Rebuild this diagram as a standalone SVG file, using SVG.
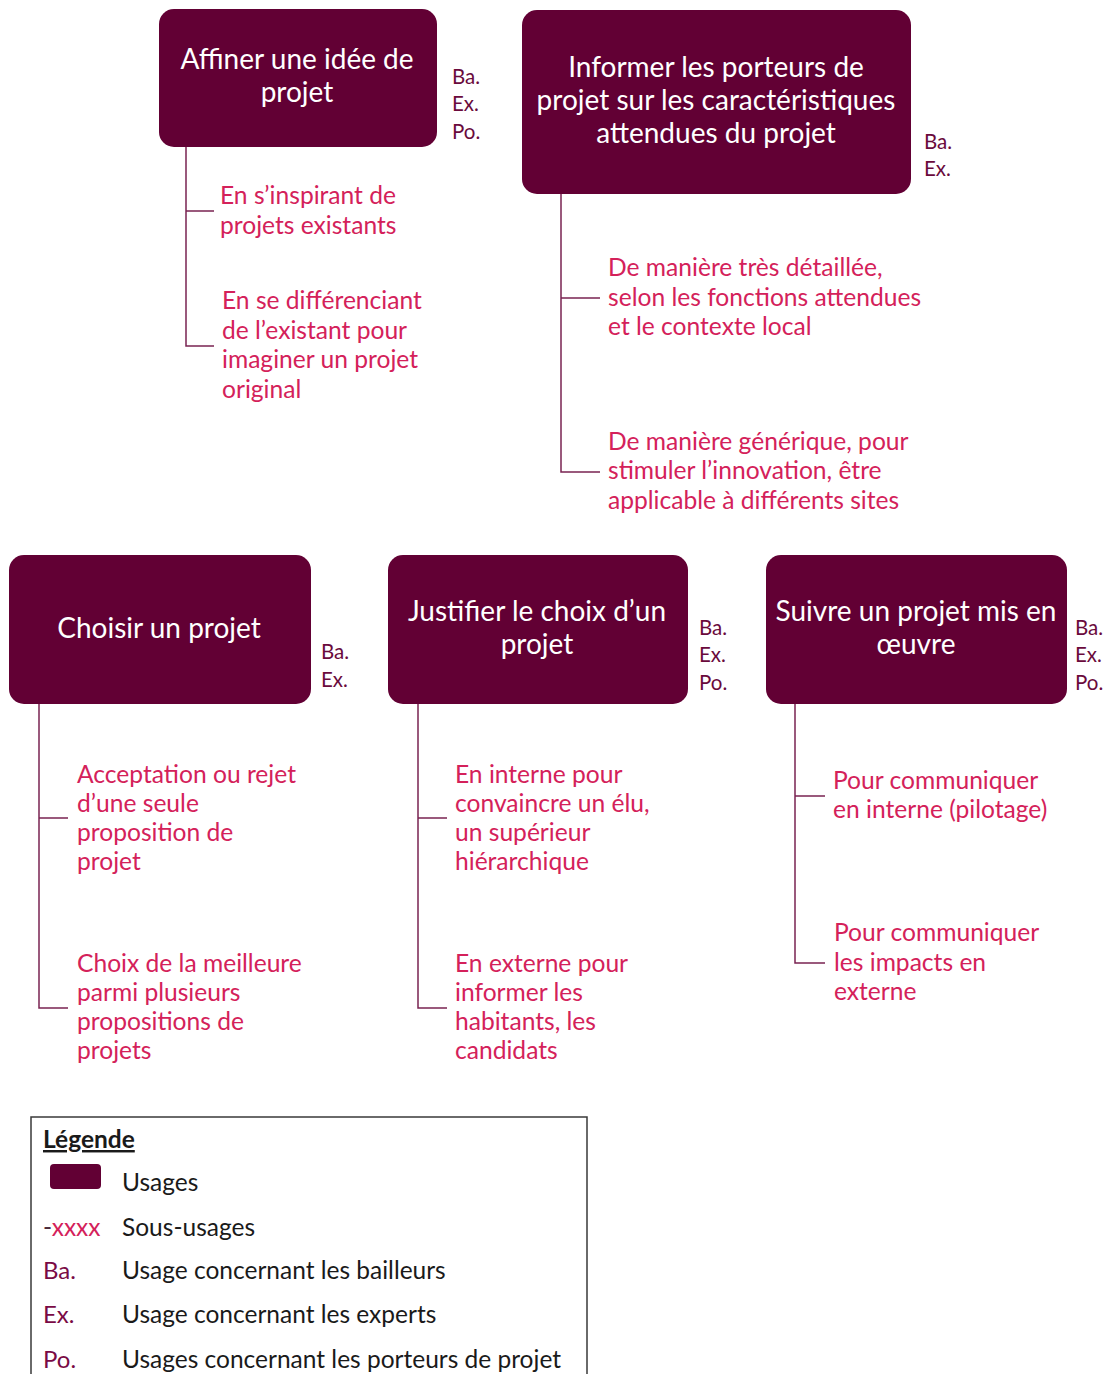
<svg xmlns="http://www.w3.org/2000/svg" width="1109" height="1374" viewBox="0 0 1109 1374">
<style>
.box{fill:#620034;}
.bt{font-family:Lato,"Open Sans","Liberation Sans",sans-serif;font-size:28px;fill:#ffffff;text-anchor:middle;}
.tag{font-family:Lato,"Open Sans","Liberation Sans",sans-serif;font-size:20.5px;fill:#6a0a3c;}
.sub{font-family:Lato,"Open Sans","Liberation Sans",sans-serif;font-size:24.6px;fill:#d4215a;}
.con{fill:none;stroke:#7a2352;stroke-width:1.5;}
.leg{font-family:Lato,"Open Sans","Liberation Sans",sans-serif;font-size:24.5px;fill:#1a1a1a;}
.legk{font-family:Lato,"Open Sans","Liberation Sans",sans-serif;font-size:24px;fill:#7a0a45;}
</style>
<rect width="1109" height="1374" fill="#ffffff"/>
<g id="connectors">
<path class="con" d="M186 147V346H214M186 211H214"/>
<path class="con" d="M561 194V472H600M561 298H600"/>
<path class="con" d="M39 704V1008H68M39 818H68"/>
<path class="con" d="M418 704V1008H447M418 818H447"/>
<path class="con" d="M795 704V963H825M795 796H825"/>
</g>
<g id="node-affiner">
<rect class="box" x="159" y="9" width="278" height="138" rx="15"/>
<text class="bt" x="297" y="69">Affiner une idée de</text>
<text class="bt" x="297" y="102">projet</text>
<text class="tag" x="452" y="84">Ba.</text>
<text class="tag" x="452" y="111">Ex.</text>
<text class="tag" x="452" y="139">Po.</text>
</g>
<g id="sub-affiner-1">
<text class="sub" x="220" y="204">En s’inspirant de</text>
<text class="sub" x="220" y="234">projets existants</text>
</g>
<g id="sub-affiner-2">
<text class="sub" x="222" y="309">En se différenciant</text>
<text class="sub" x="222" y="339">de l’existant pour</text>
<text class="sub" x="222" y="368">imaginer un projet</text>
<text class="sub" x="222" y="398">original</text>
</g>
<g id="node-informer">
<rect class="box" x="522" y="10" width="389" height="184" rx="15"/>
<text class="bt" x="716" y="77">Informer les porteurs de</text>
<text class="bt" x="716" y="110">projet sur les caractéristiques</text>
<text class="bt" x="716" y="143">attendues du projet</text>
<text class="tag" x="924" y="149">Ba.</text>
<text class="tag" x="924" y="176">Ex.</text>
</g>
<g id="sub-informer-1">
<text class="sub" x="608" y="276">De manière très détaillée,</text>
<text class="sub" x="608" y="306">selon les fonctions attendues</text>
<text class="sub" x="608" y="335">et le contexte local</text>
</g>
<g id="sub-informer-2">
<text class="sub" x="608" y="450">De manière générique, pour</text>
<text class="sub" x="608" y="479">stimuler l’innovation, être</text>
<text class="sub" x="608" y="509">applicable à différents sites</text>
</g>
<g id="node-choisir">
<rect class="box" x="9" y="555" width="302" height="149" rx="15"/>
<text class="bt" x="159" y="638">Choisir un projet</text>
<text class="tag" x="321" y="659">Ba.</text>
<text class="tag" x="321" y="687">Ex.</text>
</g>
<g id="sub-choisir-1">
<text class="sub" x="77" y="783">Acceptation ou rejet</text>
<text class="sub" x="77" y="812">d’une seule</text>
<text class="sub" x="77" y="841">proposition de</text>
<text class="sub" x="77" y="870">projet</text>
</g>
<g id="sub-choisir-2">
<text class="sub" x="77" y="972">Choix de la meilleure</text>
<text class="sub" x="77" y="1001">parmi plusieurs</text>
<text class="sub" x="77" y="1030">propositions de</text>
<text class="sub" x="77" y="1059">projets</text>
</g>
<g id="node-justifier">
<rect class="box" x="388" y="555" width="300" height="149" rx="15"/>
<text class="bt" x="537" y="621">Justifier le choix d’un</text>
<text class="bt" x="537" y="654">projet</text>
<text class="tag" x="699" y="635">Ba.</text>
<text class="tag" x="699" y="662">Ex.</text>
<text class="tag" x="699" y="690">Po.</text>
</g>
<g id="sub-justifier-1">
<text class="sub" x="455" y="783">En interne pour</text>
<text class="sub" x="455" y="812">convaincre un élu,</text>
<text class="sub" x="455" y="841">un supérieur</text>
<text class="sub" x="455" y="870">hiérarchique</text>
</g>
<g id="sub-justifier-2">
<text class="sub" x="455" y="972">En externe pour</text>
<text class="sub" x="455" y="1001">informer les</text>
<text class="sub" x="455" y="1030">habitants, les</text>
<text class="sub" x="455" y="1059">candidats</text>
</g>
<g id="node-suivre">
<rect class="box" x="766" y="555" width="301" height="149" rx="15"/>
<text class="bt" x="916" y="621">Suivre un projet mis en</text>
<text class="bt" x="916" y="654">œuvre</text>
<text class="tag" x="1075" y="635">Ba.</text>
<text class="tag" x="1075" y="662">Ex.</text>
<text class="tag" x="1075" y="690">Po.</text>
</g>
<g id="sub-suivre-1">
<text class="sub" x="833" y="789">Pour communiquer</text>
<text class="sub" x="833" y="818">en interne (pilotage)</text>
</g>
<g id="sub-suivre-2">
<text class="sub" x="834" y="941">Pour communiquer</text>
<text class="sub" x="834" y="971">les impacts en</text>
<text class="sub" x="834" y="1000">externe</text>
</g>
<g id="legend">
<path d="M31 1380V1117H587V1380" fill="none" stroke="#3a3a3a" stroke-width="1.5"/>
<text class="leg" x="43" y="1148" font-weight="bold" text-decoration="underline">Légende</text>
<rect class="box" x="50" y="1164" width="51" height="25" rx="4"/>
<text class="leg" x="122" y="1191">Usages</text>
<text class="leg" x="43" y="1236"><tspan fill="#4a2a3a">-</tspan><tspan fill="#d4215a">xxxx</tspan></text>
<text class="leg" x="122" y="1236">Sous-usages</text>
<text class="legk" x="43" y="1279">Ba.</text>
<text class="leg" x="122" y="1279">Usage concernant les bailleurs</text>
<text class="legk" x="43" y="1323">Ex.</text>
<text class="leg" x="122" y="1323">Usage concernant les experts</text>
<text class="legk" x="43" y="1368">Po.</text>
<text class="leg" x="122" y="1368">Usages concernant les porteurs de projet</text>
</g>
</svg>
